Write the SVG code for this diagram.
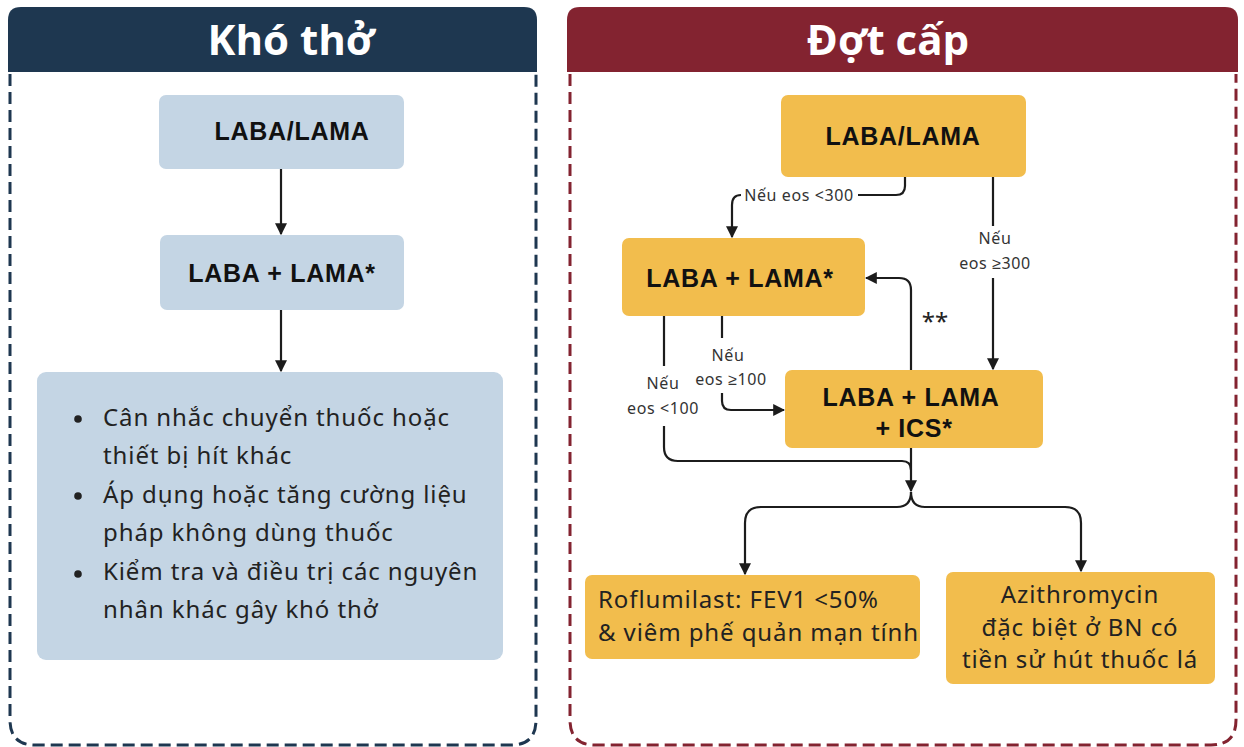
<svg xmlns="http://www.w3.org/2000/svg" width="1244" height="747" viewBox="0 0 1244 747">
<style>
.title{font-family:"Open Sans","Liberation Sans",sans-serif;font-weight:700;font-size:42px;fill:#fff;text-anchor:middle}
.nb{font-family:"Liberation Sans","Open Sans",sans-serif;font-weight:700;font-size:25px;letter-spacing:0.7px;fill:#111;text-anchor:middle}
.body{font-family:"Noto Sans","Liberation Sans",sans-serif;font-size:24px;letter-spacing:0.9px;fill:#222}
.bodyc{font-family:"Noto Sans","Liberation Sans",sans-serif;font-size:24px;letter-spacing:0.9px;fill:#222;text-anchor:middle}
.lbl{font-family:"Noto Sans","Liberation Sans",sans-serif;font-size:16px;letter-spacing:0.6px;fill:#333;text-anchor:middle}
.blue{fill:#c4d5e4}
.gold{fill:#f2bd4d}
.conn{fill:none;stroke:#1c1c1c;stroke-width:2.2}
</style>
<defs>
<marker id="ah" viewBox="0 0 10 10" refX="9" refY="5" markerWidth="12" markerHeight="12" markerUnits="userSpaceOnUse" orient="auto">
<path d="M0,0 L10,5 L0,10 z" fill="#1c1c1c"/>
</marker>
</defs>
<g id="panel-left">
<path d="M8,72 V20 Q8,7 21,7 H524 Q537,7 537,20 V72 Z" fill="#1e3750"/>
<path d="M10,74 V720 Q10,745 35,745 H511 Q536,745 536,720 V74" fill="none" stroke="#1e3750" stroke-width="3" stroke-dasharray="12 6"/>
<text class="title" x="291" y="55">Khó thở</text>
</g>
<g id="panel-right">
<path d="M567,72 V20 Q567,7 580,7 H1225 Q1238,7 1238,20 V72 Z" fill="#832330"/>
<path d="M570,74 V720 Q570,745 595,745 H1211 Q1236,745 1236,720 V74" fill="none" stroke="#832330" stroke-width="3" stroke-dasharray="12 6"/>
<text class="title" x="888" y="55">Đợt cấp</text>
</g>
<g id="connectors">
<path class="conn" d="M281,169 V234" marker-end="url(#ah)"/>
<path class="conn" d="M281,310 V371" marker-end="url(#ah)"/>
<path class="conn" d="M905,177 V186 Q905,195 896,195 H858"/>
<path class="conn" d="M741,195 Q732,195 732,205 V237" marker-end="url(#ah)"/>
<path class="conn" d="M993,177 V226"/>
<path class="conn" d="M993,278 V369" marker-end="url(#ah)"/>
<path class="conn" d="M911,370 V290 Q911,278 899,278 H866" marker-end="url(#ah)"/>
<path class="conn" d="M722,316 V338"/>
<path class="conn" d="M722,393 V401 Q722,410 731,410 H784" marker-end="url(#ah)"/>
<path class="conn" d="M664,316 V366"/>
<path class="conn" d="M664,426 V447 Q664,461 678,461 H902 Q911,461 911,470"/>
<path class="conn" d="M911,448 V491" marker-end="url(#ah)"/>
<path class="conn" d="M911,492 Q911,507 897,507 H761 Q745,507 745,523 V574" marker-end="url(#ah)"/>
<path class="conn" d="M911,492 Q911,507 925,507 H1065 Q1081,507 1081,523 V571" marker-end="url(#ah)"/>
<text class="lbl" x="799" y="201">Nếu eos &lt;300</text>
<text class="lbl" x="995" y="244">Nếu</text>
<text class="lbl" x="995" y="269">eos ≥300</text>
<text class="lbl" x="728" y="361">Nếu</text>
<text class="lbl" x="731" y="385">eos ≥100</text>
<text class="lbl" x="663" y="389">Nếu</text>
<text class="lbl" x="663" y="414">eos &lt;100</text>
<text x="935" y="330" style="font-family:'Noto Sans','Liberation Sans',sans-serif;font-size:24px;fill:#222;text-anchor:middle">**</text>
</g>
<g id="node-kt1">
<rect class="blue" x="159" y="95" width="245" height="74" rx="7"/>
<text class="nb" x="292" y="140">LABA/LAMA</text>
</g>
<g id="node-kt2">
<rect class="blue" x="160" y="235" width="244" height="75" rx="7"/>
<text class="nb" x="282" y="282">LABA + LAMA*</text>
</g>
<g id="node-kt3">
<rect class="blue" x="37" y="372" width="466" height="288" rx="9"/>
<circle cx="78" cy="419" r="3.8" fill="#222"/>
<circle cx="78" cy="496" r="3.8" fill="#222"/>
<circle cx="78" cy="574" r="3.8" fill="#222"/>
<text class="body" x="103" y="426">Cân nhắc chuyển thuốc hoặc</text>
<text class="body" x="103" y="464">thiết bị hít khác</text>
<text class="body" x="103" y="503">Áp dụng hoặc tăng cường liệu</text>
<text class="body" x="103" y="541">pháp không dùng thuốc</text>
<text class="body" x="103" y="580">Kiểm tra và điều trị các nguyên</text>
<text class="body" x="103" y="618">nhân khác gây khó thở</text>
</g>
<g id="node-dc1">
<rect class="gold" x="781" y="95" width="245" height="82" rx="7"/>
<text class="nb" x="903" y="145">LABA/LAMA</text>
</g>
<g id="node-dc2">
<rect class="gold" x="622" y="238" width="243" height="78" rx="7"/>
<text class="nb" x="740" y="287">LABA + LAMA*</text>
</g>
<g id="node-dc3">
<rect class="gold" x="785" y="370" width="258" height="78" rx="7"/>
<text class="nb" x="911" y="406">LABA + LAMA</text>
<text class="nb" x="914" y="437">+ ICS*</text>
</g>
<g id="node-dc4">
<rect class="gold" x="585" y="575" width="335" height="84" rx="7"/>
<text class="body" x="598" y="608">Roflumilast: FEV1 &lt;50%</text>
<text class="body" x="598" y="641">&amp; viêm phế quản mạn tính</text>
</g>
<g id="node-dc5">
<rect class="gold" x="946" y="572" width="269" height="112" rx="7"/>
<text class="bodyc" x="1080" y="603">Azithromycin</text>
<text class="bodyc" x="1080" y="636">đặc biệt ở BN có</text>
<text class="bodyc" x="1080" y="668">tiền sử hút thuốc lá</text>
</g>
</svg>
